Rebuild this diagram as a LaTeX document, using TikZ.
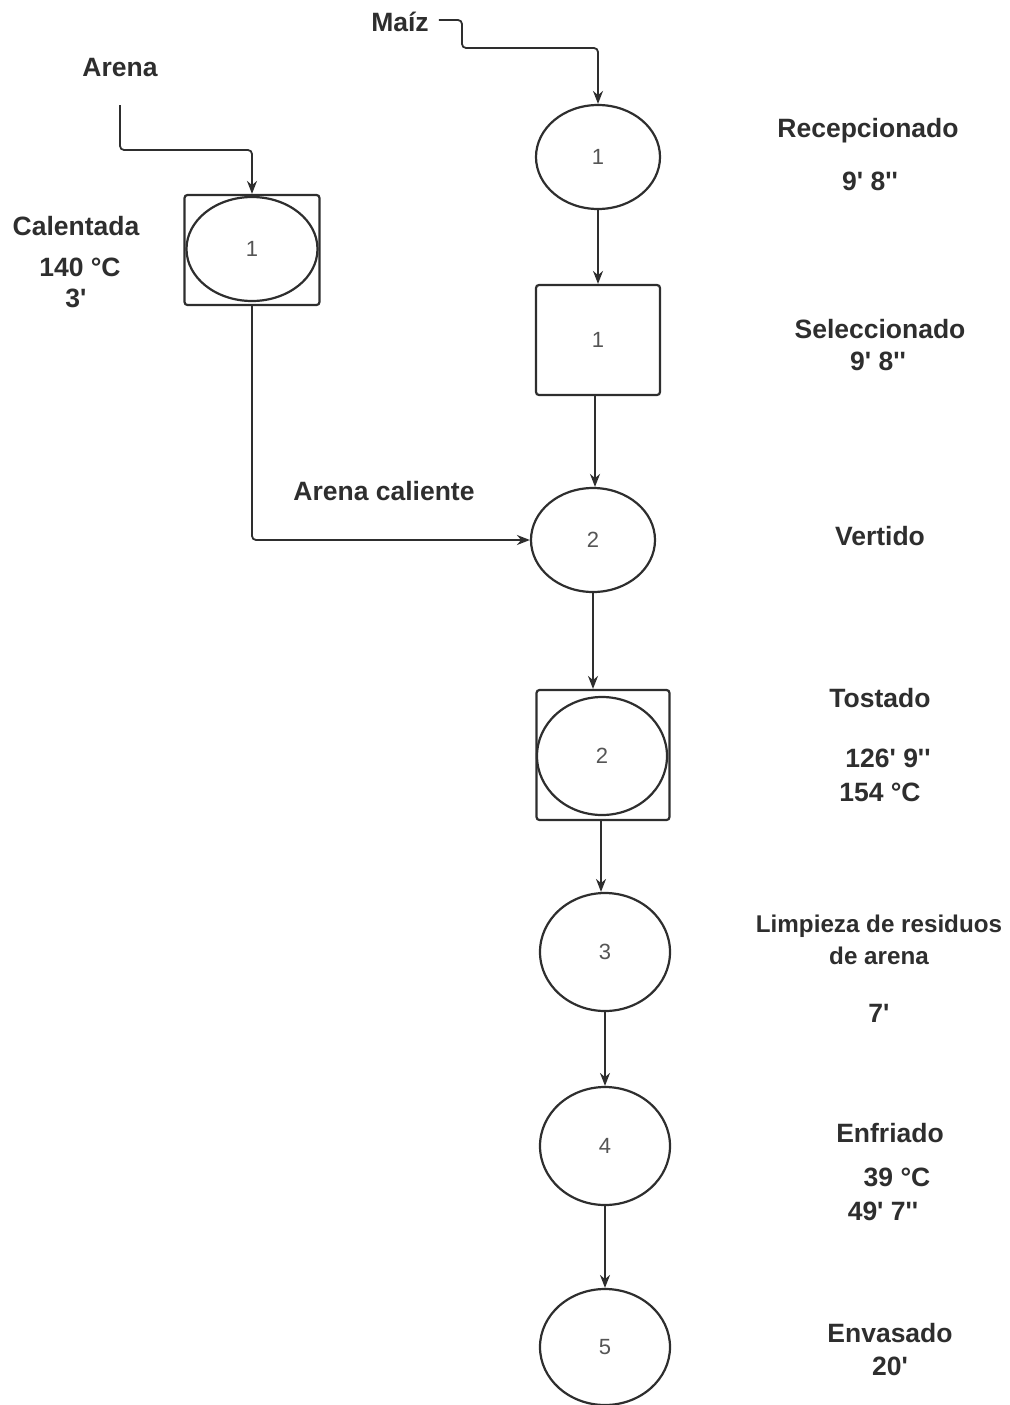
\documentclass[tikz,border=0pt]{standalone}
\usepackage{fontspec}
\setmainfont{Liberation Sans}[Ligatures=TeXOff]
\usetikzlibrary{shapes.geometric,arrows.meta}
\definecolor{ink}{HTML}{2E2E2E}
\definecolor{numc}{HTML}{555555}
\begin{document}
\begin{tikzpicture}[x=1pt,y=-1pt,
  every node/.style={inner sep=0pt},
  lbl/.style={font=\fontsize{26.5}{31}\selectfont\bfseries, text=ink, align=center},
  lbls/.style={font=\fontsize{24.2}{29}\selectfont\bfseries, text=ink, align=center},
  oval/.style={ellipse, draw=ink, line width=2.2pt, font=\fontsize{22}{26}\selectfont, text=numc},
  sq/.style={rectangle, rounded corners=3pt, draw=ink, line width=2.2pt, font=\fontsize{22}{26}\selectfont, text=numc},
  arr/.style={draw=ink, line width=1.8pt, -{Stealth[length=13pt,width=10pt]}}]
\useasboundingbox (0,0) rectangle (1009,1405);
% main column
\node[oval, minimum width=124pt, minimum height=104pt] (rec) at (598,157) {1};
\node[sq, minimum width=124pt, minimum height=110pt] (sel) at (598,340) {1};
\node[oval, minimum width=124pt, minimum height=104pt] (v2) at (593,540) {2};
\node[sq, minimum width=133pt, minimum height=130pt] (tostbox) at (603,755) {};
\node[oval, minimum width=130pt, minimum height=118pt] (tost) at (602,756) {2};
\node[oval, minimum width=130pt, minimum height=118pt] (lim) at (605,952) {3};
\node[oval, minimum width=130pt, minimum height=118pt] (enf) at (605,1146) {4};
\node[oval, minimum width=130pt, minimum height=116pt] (env) at (605,1347) {5};
% left
\node[sq, minimum width=135pt, minimum height=110pt] (calbox) at (252,250) {};
\node[oval, minimum width=131pt, minimum height=104pt] (cal) at (252,249) {1};
% labels
\node[lbl] (maiz) at (400,22) {Maíz};
\node[lbl] (arena) at (120,68) {Arena};
\coordinate (arenastart) at (120,105);
\node[lbl] (calt) at (76,226) {Calentada};
\node[lbl] (calT) at (80,267) {140 °C};
\node[lbl] (calm) at (76,298) {3'};
\node[lbl] (arc) at (384,491) {Arena caliente};
\node[lbl] (l1) at (868,131) {Recepcionado};
\node[lbl] (l1t) at (870,181) {9' 8''};
\node[lbl] (l2) at (880,329) {Seleccionado};
\node[lbl] (l2t) at (878,361) {9' 8''};
\node[lbl] (l3) at (880,536) {Vertido};
\node[lbl] (l4) at (880,698) {Tostado};
\node[lbl] (l4t) at (888,758) {126' 9''};
\node[lbl] (l4T) at (880,792) {154 °C};
\node[lbls] (l5a) at (879,926) {Limpieza de residuos};
\node[lbls] (l5b) at (879,956) {de arena};
\node[lbl] (l5t) at (879,1013) {7'};
\node[lbl] (l6) at (890,1133) {Enfriado};
\node[lbl] (l6T) at (897,1177) {39 °C};
\node[lbl] (l6t) at (883,1211) {49' 7''};
\node[lbl] (l7) at (890,1333) {Envasado};
\node[lbl] (l7t) at (890,1366) {20'};
% connectors
\draw[arr, rounded corners=4pt] ([xshift=10pt,yshift=2pt]maiz.east) -| (462,48) -| (rec.north);
\draw[arr, rounded corners=4pt] (arenastart) -- (120,150) -| (calbox.north);
\draw[arr, rounded corners=4pt] (calbox.south) |- (v2.west);
\draw[arr] (rec.south) -- (sel.north);
\draw[arr] ([xshift=-3pt]sel.south) -- ([xshift=-3pt]sel.south |- v2.north);
\draw[arr] (v2.south) -- (v2.south |- tostbox.north);
\draw[arr] ([xshift=-2pt]tostbox.south) -- ([xshift=-2pt]tostbox.south |- lim.north);
\draw[arr] (lim.south) -- (enf.north);
\draw[arr] (enf.south) -- (env.north);
\end{tikzpicture}
\end{document}
